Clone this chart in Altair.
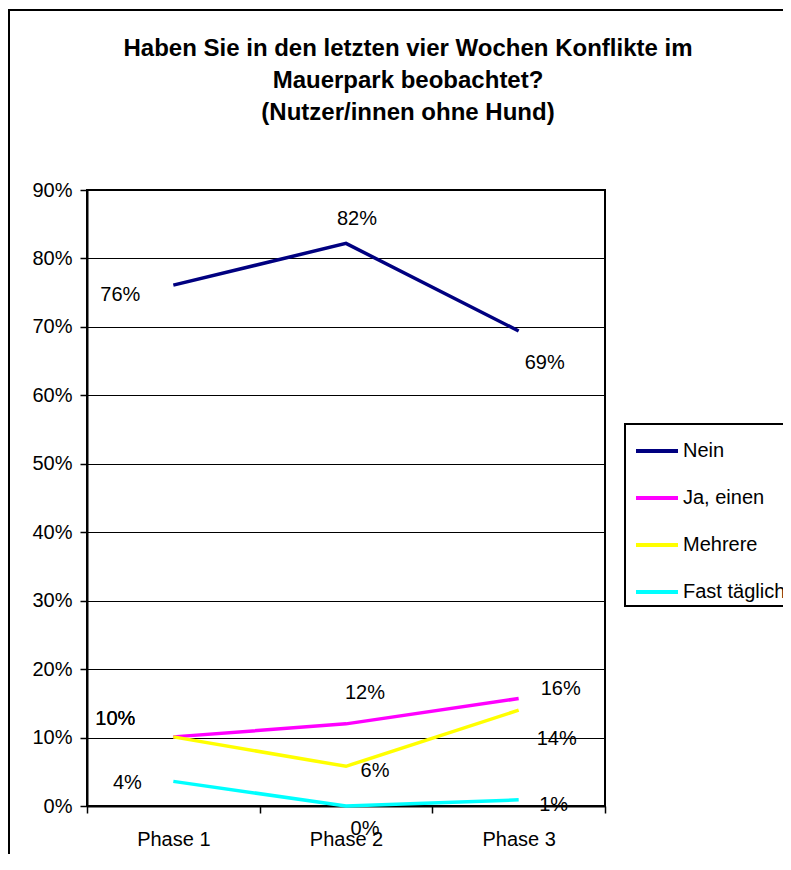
import altair as alt
import pandas as pd

phases = ["Phase 1", "Phase 2", "Phase 3"]
series = ["Nein", "Ja, einen", "Mehrere", "Fast täglich"]
nein = [0.761, 0.822, 0.694]
ja_einen = [0.101, 0.120, 0.157]
mehrere = [0.101, 0.058, 0.140]
fast_taeglich = [0.036, 0.000, 0.009]
colors = ["#000080", "#FF00FF", "#FFFF00", "#00FFFF"]
title_lines = ["Haben Sie in den letzten vier Wochen Konflikte im",
               "Mauerpark beobachtet?", "(Nutzer/innen ohne Hund)"]

# data-label offsets in pixels (layout only)
label_dx = [[-53, 11, 26], [-58, 19, 42], [-58, 29, 38], [-46, 19, 35]]
label_dy = [[10, -24, 32], [-18, -31, -10], [-18, 5, 29], [2, 23, 5]]

rows = []
for s, vals, dxs, dys in zip(series, [nein, ja_einen, mehrere, fast_taeglich], label_dx, label_dy):
    for p, v, dx, dy in zip(phases, vals, dxs, dys):
        rows.append({"Phase": p, "Serie": s, "Wert": v, "dx": dx, "dy": dy})
df = pd.DataFrame(rows)

FONT = "Liberation Sans"

xenc = alt.X(
    "Phase:N", sort=phases, bandPosition=0.5,
    scale=alt.Scale(type="band", paddingInner=0, paddingOuter=0),
    axis=alt.Axis(title=None, labelAngle=0, tickBand="extent", grid=False,
                  tickSize=7, labelPadding=16),
)
yenc = alt.Y(
    "Wert:Q", scale=alt.Scale(domain=[0, 0.9], nice=False, zero=True),
    axis=alt.Axis(title=None, format=".0%", values=[0, 0.1, 0.2, 0.3, 0.4, 0.5, 0.6, 0.7, 0.8, 0.9],
                  grid=True, gridColor="black", gridWidth=1, tickSize=7, labelPadding=8),
)
color = alt.Color(
    "Serie:N", sort=series, scale=alt.Scale(domain=series, range=colors),
    legend=alt.Legend(title=None, orient="none", legendX=538, legendY=234,
                      symbolType="stroke", symbolSize=1764, symbolStrokeWidth=4,
                      labelFontSize=20, labelFont=FONT, labelColor="black",
                      strokeColor="black", fillColor="white", padding=4,
                      rowPadding=14, symbolOffset=5, labelOffset=3),
)

base = alt.Chart(df)

frame = alt.Chart(pd.DataFrame({"k": [0]})).mark_rect(
    fillOpacity=0, stroke="black", strokeWidth=2
).encode(x=alt.value(-78), x2=alt.value(720), y=alt.value(-180), y2=alt.value(700))

title = alt.Chart(pd.DataFrame({"k": [0]})).mark_text(
    text=title_lines, font=FONT, fontSize=24, fontWeight="bold", lineHeight=32,
    align="center", baseline="alphabetic", color="black"
).encode(x=alt.value(321), y=alt.value(-134))

lines = base.mark_line(strokeWidth=3.5).encode(x=xenc, y=yenc, color=color)

labels = base.mark_text(
    fontSize=20, font=FONT, color="black", align="center", baseline="middle",
    dx=alt.ExprRef(expr="datum.dx"), dy=alt.ExprRef(expr="datum.dy"),
).encode(
    x=alt.X("Phase:N", sort=phases, bandPosition=0.5),
    y=alt.Y("Wert:Q"),
    text=alt.Text("Wert:Q", format=".0%"),
)

chart = alt.layer(frame, title, lines, labels).properties(
    width=518, height=616,
    background="white",
    autosize=alt.AutoSizeParams(type="none"),
    padding={"left": 79, "top": 182, "right": 178, "bottom": 48},
).configure_view(
    stroke="black", strokeWidth=2
).configure_axis(
    domainColor="black", domainWidth=2, tickColor="black", tickWidth=1.5,
    labelFont=FONT, labelFontSize=20, labelColor="black",
).configure_legend(
    strokeWidth=2
)

chart.save("out.html", embed_options={"renderer": "svg", "actions": False})
